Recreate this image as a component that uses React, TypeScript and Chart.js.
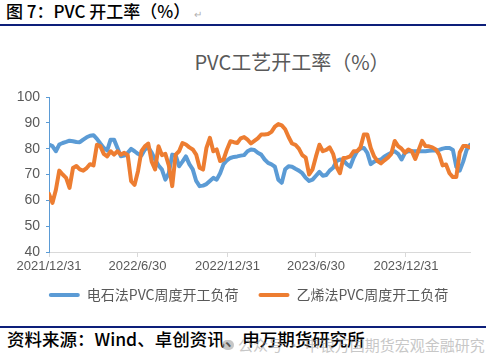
import React, { useEffect, useRef } from 'react';
import { Chart, registerables } from 'chart.js';

Chart.register(...registerables);

// Weekly observations starting 2021/12/31 (x = days since start)
const START_DATE = '2021/12/31';
const tickDays = [0, 181, 365, 546, 730];
const tickLabels = ['2021/12/31', '2022/6/30', '2022/12/31', '2023/6/30', '2023/12/31'];
const seriesNames = ['电石法PVC周度开工负荷', '乙烯法PVC周度开工负荷'];

const carbide = [
  81.6, 81, 79, 81.6, 82.2, 82.6, 83.1, 82.9, 82.6, 82.5,
  83.5, 84.4, 85, 85.2, 83.8, 82, 80.3, 79.3, 83.5, 83.5,
  80.3, 77.1, 77.3, 78.4, 79.9, 79, 78, 77.3, 79.7, 80.5,
  78.5, 75.8, 73.5, 71.9, 68, 70.5, 77.7, 77.5, 73.2, 75,
  77, 74, 72, 67.5, 65.5, 65.7, 66.3, 67.5, 68.7, 68,
  70.5, 74, 75.5, 76.4, 76.8, 77, 77.3, 77.5, 79, 79.7,
  79.5, 78.4, 77.7, 75.8, 74.5, 73.9, 73, 68, 66.8, 72,
  73.2, 73, 72.2, 71.5, 70.5, 68.7, 67.5, 68, 69.5, 71,
  69.5, 69.8, 71.5, 72.6, 75.2, 75.8, 75.5, 74, 73, 76.5,
  79, 80, 80.3, 78.4, 74, 75, 75.5, 75.8, 77, 77.7,
  78.4, 79, 78, 75.8, 78.4, 79, 79, 79, 79, 79,
  79, 79.2, 79.3, 79.3, 79.5, 80, 80.3, 80.3, 79.5, 73,
  71.5, 75, 79.5, 81.5,
];

const ethylene = [
  62.5, 59, 64, 71.5, 70, 68.7, 64.8, 72.5, 73.3, 72,
  71.5, 72.5, 74, 73.5, 81.5, 81, 78, 77, 79, 77.7,
  79, 77.7, 78.4, 77.5, 67.4, 66, 71.3, 79, 80.9, 82,
  75, 72, 80.9, 77.5, 78, 73.5, 65.5, 77.7, 79, 82.2,
  81.6, 80.5, 79.7, 77.7, 72.6, 71.9, 80.3, 84.2, 79, 79.7,
  75.2, 75.8, 79.7, 82.9, 82.5, 82.2, 84, 84.5, 83.5, 82,
  83, 84, 85.5, 85.5, 85.7, 86.5, 88.5, 89.5, 89, 87.5,
  84.5, 82, 81.5, 80, 77.5, 76.5, 70, 72, 77, 81.5,
  79, 79.5, 80.5, 78, 73, 70.5, 76.4, 76.5, 77, 79,
  79, 80.5, 85.5, 85.5, 80.3, 77, 75.2, 74.3, 75.5, 76.5,
  78, 83, 81, 80, 78.4, 79.7, 79, 76, 79.5, 83,
  81, 80.9, 80.5, 79.7, 77.7, 73.5, 73.9, 70.5, 69, 69,
  78.5, 81, 81, 80.5,
];

const Y_MIN = 40;
const Y_MAX = 100;
const Y_STEP = 10;

const BLUE = '#5b9bd5';
const ORANGE = '#ed7d31';
const TEXT_GREY = '#595959';

function toPoints(values: number[]) {
  return values.map((v, i) => ({ x: i * 7, y: v }));
}

// nudges the legend box so it sits where the reference places it
const legendOffset = {
  id: 'legendOffset',
  afterLayout(chart: any) {
    const lg = chart.legend;
    if (!lg) return;
    lg.left += 13.5;
    lg.right += 13.5;
    lg.top -= 10;
    lg.bottom -= 10;
  },
};

function PvcChart() {
  const ref = useRef<HTMLCanvasElement | null>(null);
  useEffect(() => {
    if (!ref.current) return;
    const lastDay = (carbide.length - 1) * 7;
    const chart = new Chart(ref.current, {
      type: 'line',
      data: {
        datasets: [
          {
            label: seriesNames[0],
            data: toPoints(carbide),
            borderColor: BLUE,
            backgroundColor: BLUE,
            borderWidth: 4,
            pointRadius: 0,
            tension: 0,
            borderJoinStyle: 'round',
            borderCapStyle: 'round',
            order: 1,
          },
          {
            label: seriesNames[1],
            data: toPoints(ethylene),
            borderColor: ORANGE,
            backgroundColor: ORANGE,
            borderWidth: 4,
            pointRadius: 0,
            tension: 0,
            borderJoinStyle: 'round',
            borderCapStyle: 'round',
            order: 0,
          },
        ],
      },
      options: {
        animation: false,
        responsive: false,
        devicePixelRatio: 1,
        layout: { padding: { left: 0, right: 16, top: 17, bottom: 0 } },
        scales: {
          x: {
            type: 'linear',
            min: 0,
            max: lastDay,
            afterBuildTicks: (s: any) => {
              s.ticks = tickDays.map((v) => ({ value: v }));
            },
            afterFit: (s: any) => {
              s.height = 26;
            },
            ticks: {
              autoSkip: false,
              maxRotation: 0,
              minRotation: 0,
              padding: 2,
              color: TEXT_GREY,
              font: { family: '"Liberation Sans", Arial, sans-serif', size: 13 },
              callback: (v: any) => {
                const i = tickDays.indexOf(Number(v));
                return i >= 0 ? tickLabels[i] : '';
              },
            },
            grid: { drawOnChartArea: false, drawTicks: true, tickLength: 5, color: '#d9d9d9' },
            border: { display: true, color: '#d9d9d9', width: 1 },
          },
          y: {
            min: Y_MIN,
            max: Y_MAX,
            afterFit: (s: any) => {
              s.width = 49;
            },
            ticks: {
              stepSize: Y_STEP,
              padding: 6,
              color: TEXT_GREY,
              font: { family: '"Liberation Sans", Arial, sans-serif', size: 14 },
            },
            grid: { drawOnChartArea: false, drawTicks: true, tickLength: 3, color: BLUE },
            border: { display: true, color: BLUE, width: 1 },
          },
        },
        plugins: {
          title: { display: false },
          tooltip: { enabled: false },
          legend: {
            display: true,
            position: 'bottom',
            labels: {
              boxWidth: 31,
              boxHeight: 4,
              padding: 20,
              color: TEXT_GREY,
              useBorderRadius: true,
              borderRadius: 2,
              font: { family: '"Noto Sans CJK SC", sans-serif', size: 14 },
              sort: (a: any, b: any) => a.datasetIndex - b.datasetIndex,
              generateLabels: (c: any) =>
                Chart.defaults.plugins.legend.labels
                  .generateLabels(c)
                  .map((l: any) => ({ ...l, lineWidth: 0 })),
            },
          },
        },
      },
      plugins: [legendOffset],
    } as any);
    return () => chart.destroy();
  }, []);
  return <canvas ref={ref} width={486} height={242} style={{ display: 'block' }} />;
}

export default function App() {
  const cjk = '"Noto Sans CJK SC", sans-serif';
  return (
    <div
      style={{
        position: 'absolute',
        left: 0,
        top: 0,
        width: 486,
        height: 362,
        background: '#ffffff',
        overflow: 'hidden',
        fontFamily: cjk,
      }}
    >
      <div
        style={{
          position: 'absolute',
          left: 6,
          top: 1,
          fontSize: 17,
          fontWeight: 500,
          lineHeight: '20px',
          color: '#000',
          whiteSpace: 'nowrap',
        }}
      >
        图 7：PVC 开工率（%）
        <span style={{ color: '#b0b0b0', fontSize: 10, fontWeight: 400, marginLeft: 4 }}>↵</span>
      </div>
      <div style={{ position: 'absolute', left: 0, top: 24, width: 486, height: 2, background: '#0d1f7a' }} />

      <div
        style={{
          position: 'absolute',
          left: 142,
          top: 50,
          width: 300,
          textAlign: 'center',
          fontSize: 20,
          lineHeight: '24px',
          color: TEXT_GREY,
          whiteSpace: 'nowrap',
        }}
      >
        PVC工艺开工率（%）
      </div>

      <div style={{ position: 'absolute', left: 0, top: 80, width: 486, height: 242 }}>
        <PvcChart />
      </div>

      <div style={{ position: 'absolute', left: 0, top: 326, width: 486, height: 2, background: '#0d1f7a' }} />
      <div
        style={{
          position: 'absolute',
          left: 7,
          top: 328,
          fontSize: 17.5,
          fontWeight: 500,
          lineHeight: '22px',
          color: '#000',
          whiteSpace: 'nowrap',
        }}
      >
        资料来源：Wind、卓创资讯、申万期货研究所
      </div>
      <div
        style={{
          position: 'absolute',
          left: 222,
          top: 330,
          width: 250,
          height: 18,
          opacity: 0.55,
          whiteSpace: 'nowrap',
        }}
      >
        <span
          style={{
            display: 'inline-block',
            width: 12,
            height: 10,
            borderRadius: 6,
            background: '#9a9a9a',
            verticalAlign: 'middle',
            marginRight: 4,
          }}
        />
        <span style={{ fontSize: 15, lineHeight: '18px', color: '#9a9a9a', verticalAlign: 'middle' }}>
          公众号 · 申银万国期货宏观金融研究
        </span>
      </div>
    </div>
  );
}
